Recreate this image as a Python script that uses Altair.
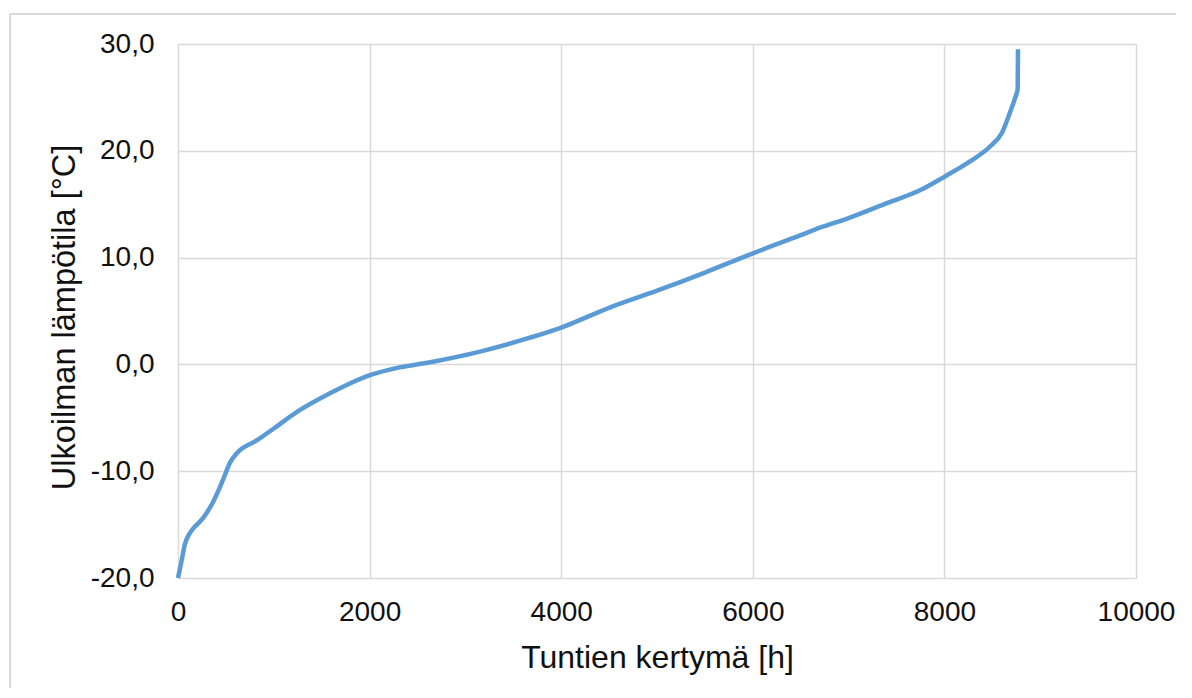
import altair as alt
import pandas as pd

# Duration curve of outdoor temperature
hours = [0, 35, 73, 110, 146, 261, 365, 470, 543, 616, 825, 1000, 1250, 1587,
         2004, 2300, 2630, 3152, 3674, 3987, 4500, 5000, 5500, 6000, 6500,
         6700, 7000, 7400, 7745, 8006, 8267, 8476, 8601, 8685, 8740, 8765, 8768]
temps = [-20.0, -18.5, -16.8, -16.0, -15.5, -14.4, -12.9, -10.8, -9.2, -8.3,
         -7.1, -6.0, -4.4, -2.7, -1.0, -0.3, 0.2, 1.2, 2.5, 3.4, 5.3, 6.9, 8.6,
         10.4, 12.1, 12.8, 13.7, 15.1, 16.3, 17.6, 19.0, 20.4, 21.7, 23.6, 25.0,
         25.8, 29.5]

x_ticks = [0, 2000, 4000, 6000, 8000, 10000]
y_ticks = [-20, -10, 0, 10, 20, 30]

df = pd.DataFrame({"h": hours, "t": temps})

FONT = "Liberation Sans"
W, H = 958, 534

line = alt.Chart(df).mark_line(color="#5b9bd5", strokeWidth=4.5, clip=False,
                               interpolate="monotone").encode(
    x=alt.X("h:Q", scale=alt.Scale(domain=[0, 10000], nice=False),
            axis=alt.Axis(values=x_ticks, format="d", title="Tuntien kertymä [h]",
                          labelFontSize=28, titleFontSize=32, titleFontWeight="normal",
                          labelFont=FONT, titleFont=FONT, labelColor="#111111",
                          titleColor="#111111", ticks=False, domain=False,
                          labelFlush=False, labelOverlap=False,
                          labelPadding=20, gridColor="#d9d9d9", gridWidth=1.5,
                          titleX=W / 2, titleY=79, titleBaseline="middle",
                          titleAlign="center")),
    y=alt.Y("t:Q", scale=alt.Scale(domain=[-20, 30], nice=False),
            axis=alt.Axis(values=y_ticks, title="Ulkoilman lämpötila [°C]",
                          labelExpr="(datum.value < 0 ? '-' : '') + replace(format(abs(datum.value), '.1f'), '.', ',')",
                          labelFontSize=28, titleFontSize=32.5, titleFontWeight="normal",
                          labelFont=FONT, titleFont=FONT, labelColor="#111111",
                          titleColor="#111111", ticks=False, domain=False,
                          labelFlush=False, labelOverlap=False,
                          labelPadding=24, gridColor="#d9d9d9", gridWidth=1.5,
                          titleX=-114, titleY=H / 2 + 6, titleAngle=-90,
                          titleAlign="center", titleBaseline="middle")),
)

frame_df = pd.DataFrame({"k": [0]})
frame_top = alt.Chart(frame_df).mark_rule(color="#d9d9d9", strokeWidth=2, clip=False).encode(
    x=alt.value(-168), x2=alt.value(W + 60), y=alt.value(-30))
frame_left = alt.Chart(frame_df).mark_rule(color="#d9d9d9", strokeWidth=2, clip=False).encode(
    x=alt.value(-168), y=alt.value(-30), y2=alt.value(H + 120))

chart = alt.layer(frame_top, frame_left, line).properties(
    width=W, height=H,
    autosize=alt.AutoSizeParams(type="none"),
    padding={"left": 170, "top": 36, "right": 40, "bottom": 110},
).configure_view(stroke="#d0d0d0", strokeWidth=1.5).configure(background="white")

chart.save("out.html", embed_options={"renderer": "svg", "actions": False})
